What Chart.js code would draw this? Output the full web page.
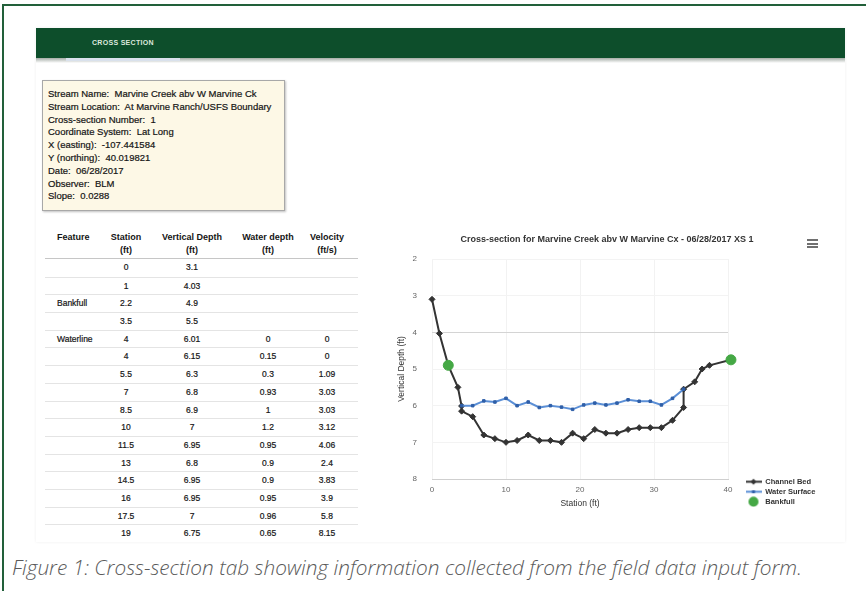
<!DOCTYPE html>
<html>
<head>
<meta charset="utf-8">
<script src="https://cdn.jsdelivr.net/npm/chart.js@4"></script>
<style>
  html, body { margin: 0; padding: 0; background: #fff; }
  body { width: 866px; height: 591px; position: relative; overflow: hidden; font-family: 'Liberation Sans', Arial, sans-serif; color: #111; }
  #frame { position: absolute; left: 2px; top: 4px; width: 900px; height: 620px; border-top: 2px solid #22603a; border-left: 2px solid #22603a; }
  #panel { position: absolute; left: 36px; top: 28px; width: 809px; height: 514px; background: #fff; box-shadow: 0 0 3px rgba(0,0,0,0.07); }
  #bar { position: absolute; left: 36px; top: 28px; width: 809px; height: 30px; background: #0d4e2b; }
  #barShadow { position: absolute; left: 36px; top: 58px; width: 809px; height: 5px; background: linear-gradient(#a4aca6, rgba(255,255,255,0)); }
  #tabLine { position: absolute; left: 66px; top: 58px; width: 114px; height: 3px; background: #d9e1ec; }
  #tab { position: absolute; left: 92px; top: 39px; font-size: 7px; font-weight: bold; color: #dce8dd; letter-spacing: 0.3px; }
  #info { position: absolute; left: 42px; top: 80px; width: 232px; height: 115px; padding: 7px 4px 7px 5px; border: 1.5px solid #a8a8a8; background: #fdf8e6; box-shadow: 1px 1px 2px rgba(0,0,0,0.25); font-size: 9.5px; line-height: 12.8px; color: #151515; white-space: pre; -webkit-text-stroke: 0.2px #151515; }
  #tbl { position: absolute; left: 45px; top: 230px; width: 313px; font-size: 8.5px; color: #151515; }
  .row { display: flex; box-sizing: border-box; height: 17.7px; line-height: 17px; border-top: 1px solid #e4e4e4; -webkit-text-stroke: 0.2px #151515; }
  .head { display: flex; box-sizing: border-box; height: 29px; line-height: 13px; padding-top: 0.5px; font-size: 9px; font-weight: bold; border-bottom: 1px solid #c6c6c6; }
  .c0 { width: 55px; padding-left: 12px; box-sizing: border-box; text-align: left; }
  .c1 { width: 52px; text-align: center; }
  .c2 { width: 80px; text-align: center; }
  .c3 { width: 72px; text-align: center; }
  .c4 { width: 54px; padding-right: 8px; box-sizing: border-box; text-align: center; }
  #menu { position: absolute; left: 807px; top: 239px; width: 11px; }
  #menu span { display: block; height: 2px; background: #707070; margin-bottom: 1.5px; }
  #caption { position: absolute; left: 12px; top: 567px; transform: translateY(-50%); font-family: 'Open Sans', Lato, sans-serif; font-style: italic; font-weight: 300; font-size: 18px; line-height: 1.2; color: #5a5a5a; white-space: nowrap; }
</style>
</head>
<body>
<div id="frame"></div>
<div id="panel"></div>
<div id="bar"></div>
<div id="barShadow"></div>
<div id="tabLine"></div>
<div id="tab">CROSS SECTION</div>
<div id="info"></div>
<div id="tbl"></div>
<canvas id="xs" width="460" height="292" style="position:absolute;left:385px;top:228px"></canvas>
<div id="menu"><span></span><span></span><span></span></div>
<div id="caption">Figure 1: Cross-section tab showing information collected from the field data input form.</div>
<script>
// ---- site info ----
const infoLabels = ['Stream Name', 'Stream Location', 'Cross-section Number', 'Coordinate System',
  'X (easting)', 'Y (northing)', 'Date', 'Observer', 'Slope'];
const infoValues = ['Marvine Creek abv W Marvine Ck', 'At Marvine Ranch/USFS Boundary', '1', 'Lat Long',
  '-107.441584', '40.019821', '06/28/2017', 'BLM', '0.0288'];

// ---- survey points (channel bed) ----
const bedStation = [0, 1, 2.2, 3.5, 4, 4, 5.5, 7, 8.5, 10, 11.5, 13, 14.5, 16, 17.5, 19,
  20.5, 22, 23.5, 25, 26.5, 28, 29.5, 31, 32.5, 34, 34, 35.5, 36.5, 37.5, 40.4];
const bedDepth = [3.1, 4.03, 4.9, 5.5, 6.01, 6.15, 6.3, 6.8, 6.9, 7, 6.95, 6.8, 6.95, 6.95, 7, 6.75,
  6.9, 6.65, 6.75, 6.75, 6.65, 6.6, 6.6, 6.6, 6.4, 6.05, 5.55, 5.35, 5.0, 4.9, 4.75];

// ---- water surface ----
const surfStation = [4, 5.5, 7, 8.5, 10, 11.5, 13, 14.5, 16, 17.5, 19, 20.5, 22, 23.5, 25, 26.5, 28, 29.5, 31, 32.5, 34];
const surfDepth = [6.0, 6.0, 5.87, 5.9, 5.8, 6.0, 5.9, 6.05, 6.0, 6.04, 6.1, 5.98, 5.93, 5.98, 5.93, 5.84, 5.88, 5.88, 5.98, 5.8, 5.55];

// ---- bankfull ----
const bankStation = [2.2, 40.4];
const bankDepth = [4.9, 4.75];

// ---- table (first rows shown in the form) ----
const tableHeads = [['Feature', ''], ['Station', '(ft)'], ['Vertical Depth', '(ft)'], ['Water depth', '(ft)'], ['Velocity', '(ft/s)']];
const tableFeature = ['', '', 'Bankfull', '', 'Waterline', '', '', '', '', '', '', '', '', '', '', ''];
const tableStation = [0, 1, 2.2, 3.5, 4, 4, 5.5, 7, 8.5, 10, 11.5, 13, 14.5, 16, 17.5, 19];
const tableVertDepth = [3.1, 4.03, 4.9, 5.5, 6.01, 6.15, 6.3, 6.8, 6.9, 7, 6.95, 6.8, 6.95, 6.95, 7, 6.75];
const tableWaterDepth = [null, null, null, null, 0, 0.15, 0.3, 0.93, 1, 1.2, 0.95, 0.9, 0.9, 0.95, 0.96, 0.65];
const tableVelocity = [null, null, null, null, 0, 0, 1.09, 3.03, 3.03, 3.12, 4.06, 2.4, 3.83, 3.9, 5.8, 8.15];

// info box
document.getElementById('info').textContent =
  infoLabels.map((l, i) => l + ':  ' + infoValues[i]).join('\n');

// table
const tbl = document.getElementById('tbl');
let html = '<div class="head">' + tableHeads.map((h, i) =>
  '<div class="c' + i + '">' + h[0] + '<br>' + h[1] + '</div>').join('') + '</div>';
const cell = v => (v === null ? '' : v);
tableStation.forEach((s, i) => {
  html += '<div class="row"' + (i === 0 ? ' style="border-top:none"' : '') + '>' +
    '<div class="c0">' + tableFeature[i] + '</div>' +
    '<div class="c1">' + s + '</div>' +
    '<div class="c2">' + tableVertDepth[i] + '</div>' +
    '<div class="c3">' + cell(tableWaterDepth[i]) + '</div>' +
    '<div class="c4">' + cell(tableVelocity[i]) + '</div></div>';
});
tbl.innerHTML = html;

// caption: size it to the width it has in the figure
const cap = document.getElementById('caption');
const capW = cap.getBoundingClientRect().width;
cap.style.fontSize = (18 * 790 / capW).toFixed(2) + 'px';

// ============================================================
// CHART
// ============================================================
Chart.defaults.font.family = "'Liberation Sans', Arial, sans-serif";

const pts = (xs, ys) => xs.map((x, i) => ({ x, y: ys[i] }));

// legend icons: line + marker like the original chart
function legendIcon(lineColor, drawMarker) {
  const c = document.createElement('canvas');
  c.width = 16; c.height = 11;
  const g = c.getContext('2d');
  if (lineColor) {
    g.strokeStyle = lineColor; g.lineWidth = 2;
    g.beginPath(); g.moveTo(0, 5.5); g.lineTo(16, 5.5); g.stroke();
  }
  drawMarker(g);
  return c;
}
const icons = [
  legendIcon('#333', g => { g.fillStyle = '#333'; g.beginPath(); g.moveTo(8, 2.5); g.lineTo(11, 5.5); g.lineTo(8, 8.5); g.lineTo(5, 5.5); g.closePath(); g.fill(); }),
  legendIcon('#5b8fd6', g => { g.fillStyle = '#2f5fa8'; g.fillRect(6.5, 4, 3, 3); }),
  legendIcon(null, g => { g.fillStyle = '#45a845'; g.beginPath(); g.arc(8, 5.5, 5, 0, Math.PI * 2); g.fill(); })
];

// move title/legend to where the original chart has them
const placeBoxes = {
  id: 'placeBoxes',
  afterLayout(chart) {
    const area = chart.chartArea;
    const lg = chart.legend;
    lg.left = area.right + 15; lg.right = lg.left + 100;
    lg.bottom = area.bottom + 29; lg.top = lg.bottom - lg.height;
    const tb = chart.titleBlock;
    const shift = 222 - (tb.left + tb.right) / 2;
    tb.left += shift; tb.right += shift;
  }
};

new Chart(document.getElementById('xs').getContext('2d'), {
  type: 'scatter',
  data: {
    datasets: [
      { label: 'Channel Bed', data: pts(bedStation, bedDepth), showLine: true, order: 2, clip: false,
        borderColor: '#333', borderWidth: 2, pointStyle: 'rectRot', pointRadius: 3, pointBorderWidth: 1,
        pointBackgroundColor: '#333', pointBorderColor: '#333' },
      { label: 'Water Surface', data: pts(surfStation, surfDepth), showLine: true, order: 1, clip: false,
        borderColor: '#5b8fd6', borderWidth: 2, pointStyle: 'rect', pointRadius: 1.8, pointBorderWidth: 1,
        pointBackgroundColor: '#2f5fa8', pointBorderColor: '#2f5fa8' },
      { label: 'Bankfull', data: pts(bankStation, bankDepth), showLine: false, order: 0, clip: false,
        pointStyle: 'circle', pointRadius: 5, pointBorderWidth: 1, pointBackgroundColor: '#45a845', pointBorderColor: '#45a845' }
    ]
  },
  options: {
    responsive: false, animation: false, devicePixelRatio: 1,
    layout: { padding: { right: 87 } },
    plugins: {
      tooltip: { enabled: false },
      title: {
        display: true, text: 'Cross-section for Marvine Creek abv W Marvine Cx - 06/28/2017 XS 1',
        color: '#333', font: { size: 9, weight: 'bold', lineHeight: 1.2 }, padding: { top: 6, bottom: 14.2 }
      },
      legend: {
        position: 'right', align: 'end', maxWidth: 30,
        labels: {
          usePointStyle: true, pointStyleWidth: 16, padding: 2.5,
          font: { size: 7.5, weight: 'bold' }, color: '#333',
          generateLabels: chart => chart.data.datasets.map((ds, i) => ({
            text: ds.label, pointStyle: icons[i], fillStyle: 'transparent', strokeStyle: 'transparent',
            lineWidth: 0, hidden: false, datasetIndex: i, fontColor: '#333'
          }))
        }
      }
    },
    scales: {
      x: {
        type: 'linear', min: 0, max: 40,
        ticks: { stepSize: 10, color: '#666', font: { size: 8 }, padding: 6, maxRotation: 0 },
        grid: { color: '#f2f2f2', drawTicks: false },
        border: { color: '#cfcfcf' },
        title: { display: true, text: 'Station (ft)', color: '#333', font: { size: 8.5 }, padding: { top: 0, bottom: 11 } },
        afterFit: s => { s.height = 41; }
      },
      y: {
        reverse: true, min: 2, max: 8,
        ticks: { stepSize: 1, color: '#666', font: { size: 8 }, padding: 15 },
        grid: { color: c => (c.tick && c.tick.value === 4 ? '#d4d4d4' : '#f3f3f3'), drawTicks: false },
        border: { display: false },
        title: { display: true, text: 'Vertical Depth (ft)', color: '#333', font: { size: 8.5 }, padding: { top: 12, bottom: 0 } },
        afterFit: s => { s.width = 47; }
      }
    }
  },
  plugins: [placeBoxes]
});
</script>
</body>
</html>
